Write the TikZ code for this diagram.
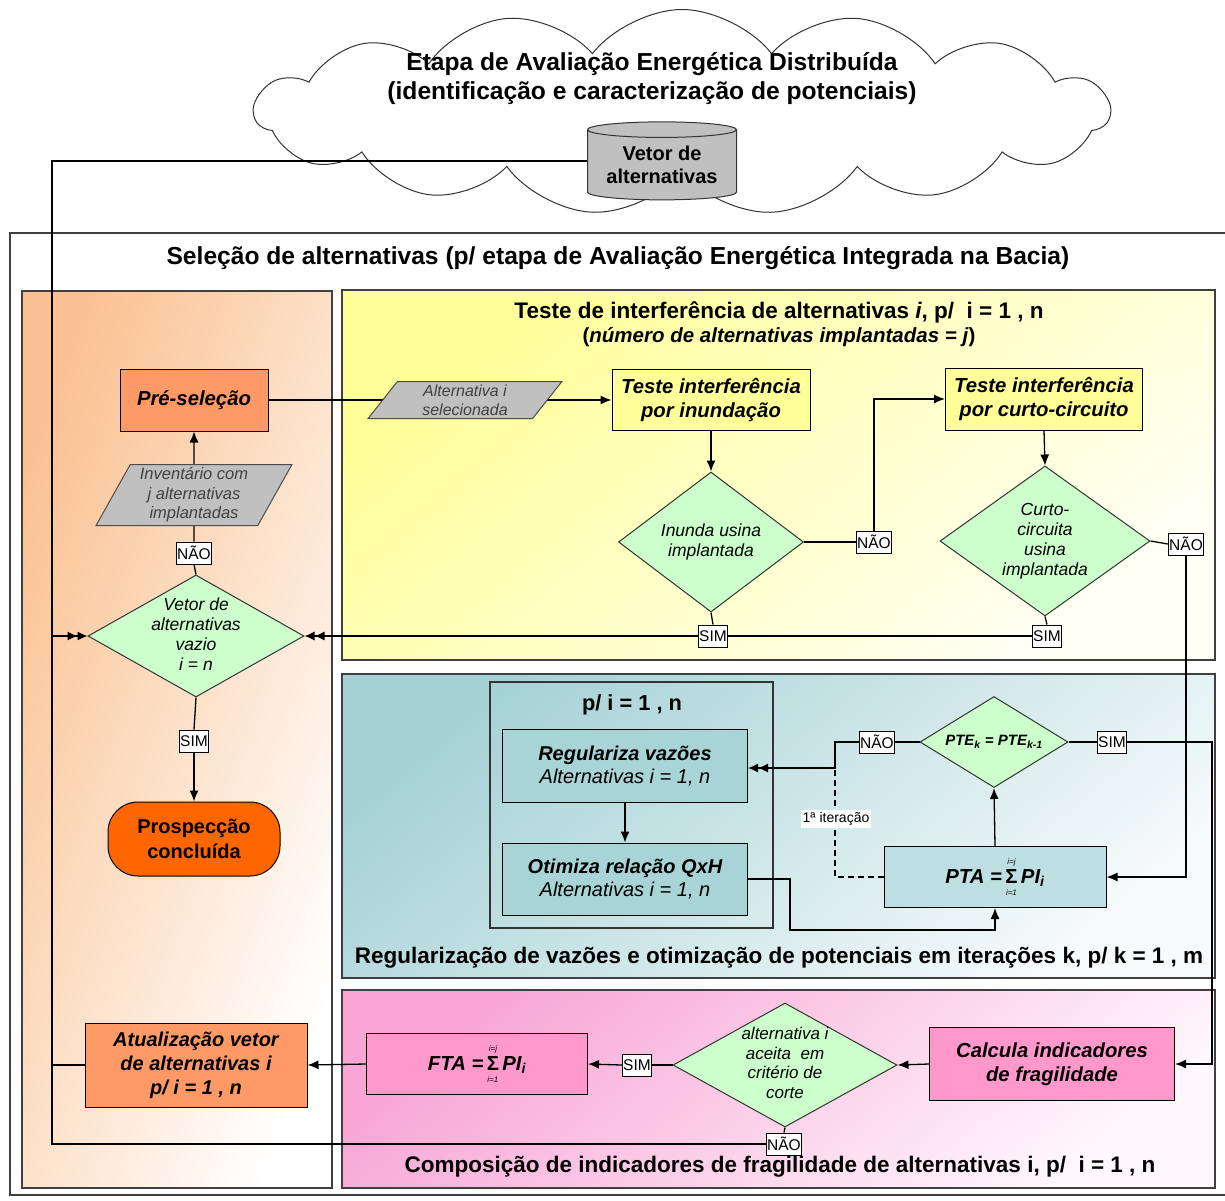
\documentclass[tikz,border=0pt]{standalone}
\usepackage{fontspec}
\setmainfont{Liberation Sans}
\usetikzlibrary{shapes.geometric,shapes.symbols,arrows.meta,calc}
\pgfdeclarelayer{bg}
\pgfdeclarelayer{lines}
\pgfsetlayers{bg,lines,main}
\definecolor{peach}{RGB}{250,194,146}
\definecolor{salmon}{RGB}{255,153,102}
\definecolor{deeporange}{RGB}{255,102,0}
\definecolor{lyellow}{RGB}{255,255,153}
\definecolor{lgreen}{RGB}{204,255,204}
\definecolor{lgray}{RGB}{192,192,192}
\definecolor{tealbox}{RGB}{168,212,216}
\definecolor{tealpanel}{RGB}{166,210,214}
\definecolor{pinkbox}{RGB}{255,153,204}
\definecolor{pinkpanel}{RGB}{248,166,214}
\newcommand\sumij{\,\ensuremath{\mathop{\mbox{\upshape Σ}}\limits^{\mbox{\fontsize{8}{8}\selectfont\mdseries\itshape i=j}\rule[-4pt]{0pt}{0pt}}_{\rule{0pt}{10pt}\mbox{\fontsize{8}{8}\selectfont\mdseries\itshape i=1}}}\,}
\newcommand\ctx[2]{\smash{\makebox[0pt]{\raisebox{#1}{\begin{tabular}{@{}c@{}}#2\end{tabular}}}}}
\tikzset{
 box/.style={rectangle, draw=black, line width=1pt, inner sep=2pt, align=center},
 dec/.style={diamond, draw=black!80, line width=1pt, fill=lgreen, inner sep=0pt, align=center, font=\fontsize{17.5}{20}\selectfont\itshape},
 io/.style={trapezium, trapezium stretches=true, draw=black!70, line width=1pt, fill=lgray, align=center, text=black!75, inner sep=0pt},
 lbl/.style={draw=black, fill=white, line width=0.8pt, inner sep=1pt, font=\fontsize{15.5}{16}\selectfont, minimum height=22pt},
 conn/.style={line width=1.3pt, draw=black},
 arr/.style={conn, -{Latex[length=11pt,width=9pt]}},
 darr/.style={conn, -{Latex[length=10pt,width=9pt] Latex[length=10pt,width=9pt]}},
 panel/.style={draw=black!75, line width=1.5pt},
 ptitle/.style={font=\fontsize{22.5}{26}\selectfont\bfseries},
 bfit/.style={font=\fontsize{20.3}{24.5}\selectfont\bfseries\itshape},
}
\begin{document}
\begin{tikzpicture}[x=1pt,y=-1pt]
\useasboundingbox (0,0) rectangle (1225,1200);
\begin{pgfonlayer}{bg}
\fill[white] (0,0) rectangle (1225,1200);
\node[cloud, cloud puffs=15, cloud puff arc=105, cloud ignores aspect, draw=black!80, line width=1pt, fill=white, minimum width=855pt, minimum height=205pt] (cloud) at (682,112) {};
\draw[panel, fill=white] (10,233) rectangle (1240,1195);
\draw[panel, top color=peach, bottom color=white, shading angle=70] (22,291) rectangle (332,1188);
\draw[panel, top color=lyellow, bottom color=yellow!4, shading angle=40] (342,290) rectangle (1215,660);
\draw[panel, top color=tealpanel, bottom color=tealpanel!10, shading angle=40] (342,674) rectangle (1215,978);
\draw[panel, top color=pinkpanel, bottom color=pinkpanel!8, shading angle=40] (342,990) rectangle (1215,1188);
\draw[line width=1.3pt, draw=black!80] (490,682) rectangle (773,928);
\end{pgfonlayer}

% titles
\node[font=\fontsize{24.6}{29}\selectfont\bfseries, align=center] (ctitle) at (652,79) {Etapa de Avaliação Energética Distribuída\\(identificação e caracterização de potenciais)};
\node[font=\fontsize{24.6}{28}\selectfont\bfseries] (stitle) at (618,258) {Seleção de alternativas (p/ etapa de Avaliação Energética Integrada na Bacia)};
\node[ptitle] (yt1) at (779,312) {Teste de interferência de alternativas \textit{i}, p/\ \ i = 1 , n};
\node[font=\fontsize{20.5}{24}\selectfont\bfseries] (yt2) at (779,337) {(\textit{número de alternativas implantadas = j})};
\node[ptitle] (tt) at (779,958) {Regularização de vazões e otimização de potenciais em iterações k, p/ k = 1 , m};
\node[ptitle] (pt) at (780,1167) {Composição de indicadores de fragilidade de alternativas i, p/\ \ i = 1 , n};

% cylinder
\node[cylinder, shape border rotate=90, aspect=0.14, draw=black!80, line width=1pt, fill=lgray, minimum width=149pt, minimum height=78pt, align=center, font=\fontsize{20}{23}\selectfont\bfseries, inner sep=0pt] (cyl) at (662,165) {Vetor de\\alternativas};

% left column
\node[box, fill=salmon, minimum width=148pt, minimum height=62pt, bfit] (pre) at (194,400) {Pré-seleção};
\node[io, minimum width=196pt, minimum height=61pt, trapezium left angle=62, trapezium right angle=118, font=\fontsize{16.5}{19.5}\selectfont\itshape] (inv) at (194,495) {Inventário com\\j alternativas\\implantadas};
\node[lbl] (n0) at (194,553) {NÃO};
\node[dec, minimum width=216pt, minimum height=122pt] (d0) at (196,636) {\ctx{-0.25em}{Vetor de\\alternativas\\vazio\\i = n}};
\node[lbl] (s0) at (194,741) {SIM};
\node[box, fill=deeporange, rounded corners=30pt, minimum width=172pt, minimum height=74pt, font=\fontsize{20}{25}\selectfont\bfseries] (pros) at (194,839) {Prospecção\\concluída};
\node[box, fill=salmon, minimum width=222pt, minimum height=84pt, font=\fontsize{20}{24}\selectfont\bfseries\itshape] (atual) at (196,1065) {Atualização vetor\\de alternativas i\\p/ i = 1 , n};

% yellow panel
\node[io, minimum width=194pt, minimum height=37pt, trapezium left angle=59, trapezium right angle=121, font=\fontsize{16}{19}\selectfont\itshape] (alt) at (465,400) {Alternativa i\\selecionada};
\node[box, fill=lyellow, minimum width=198pt, minimum height=61pt, bfit] (tin) at (711,400) {Teste interferência\\por inundação};
\node[box, fill=lyellow, minimum width=197pt, minimum height=62pt, bfit] (tcc) at (1044,399) {Teste interferência\\por curto-circuito};
\node[dec, minimum width=185pt, minimum height=140pt] (d1) at (711,542) {\ctx{-0.25em}{Inunda usina\\implantada}};
\node[dec, minimum width=210pt, minimum height=150pt] (d2) at (1045,541) {\ctx{-0.25em}{Curto-\\circuita\\usina\\implantada}};
\node[lbl] (n1) at (874,542) {NÃO};
\node[lbl] (n2) at (1186,544) {NÃO};
\node[lbl] (s1) at (713,636) {SIM};
\node[lbl] (s2) at (1047,636) {SIM};

% teal panel
\node[font=\fontsize{21.8}{24}\selectfont\bfseries] (lt) at (632,705) {p/ i = 1 , n};
\node[box, fill=tealbox, minimum width=245pt, minimum height=73pt, font=\fontsize{20}{23}\selectfont] (reg) at (625,766) {{\bfseries\itshape Regulariza vazões}\\{\itshape Alternativas i = 1, n}};
\node[box, fill=tealbox, minimum width=245pt, minimum height=72pt, font=\fontsize{20}{23}\selectfont] (otm) at (625,879) {{\bfseries\itshape Otimiza relação QxH}\\{\itshape Alternativas i = 1, n}};
\node[box, fill=tealbox!75!white, minimum width=222pt, minimum height=61pt, bfit] (pta) at (995,877) {PTA =\sumij PI\textsubscript{i}};
\node[dec, minimum width=148pt, minimum height=91pt, font=\fontsize{15}{18}\selectfont\bfseries\itshape] (d3) at (994,742) {\ctx{-0.25em}{PTE\textsubscript{k} = PTE\textsubscript{k-1}}};
\node[lbl] (n3) at (877,742) {NÃO};
\node[lbl] (s3) at (1112,742) {SIM};
\node[fill=white, inner sep=2pt, font=\fontsize{14}{16}\selectfont] (iter) at (836,819) {1ª iteração};

% pink panel
\node[box, fill=pinkbox, minimum width=245pt, minimum height=73pt, bfit] (calc) at (1052,1064) {Calcula indicadores\\de fragilidade};
\node[dec, minimum width=224pt, minimum height=124pt, font=\fontsize{17}{19.5}\selectfont\itshape] (d4) at (785,1065) {\ctx{-0.25em}{alternativa i\\aceita\ \ em\\critério de\\corte}};
\node[lbl] (s4) at (637,1065) {SIM};
\node[lbl] (n4) at (784,1144) {NÃO};
\node[box, fill=pinkbox, minimum width=221pt, minimum height=61pt, bfit] (fta) at (477,1064) {FTA =\sumij PI\textsubscript{i}};

\coordinate (ltop) at (52,161);
\coordinate (lbot) at (52,1144);
\coordinate (lmid) at (52,636);
\coordinate (latu) at (52,1065);
\coordinate (o1) at (790,930);
\coordinate (m1) at (835,768);
\coordinate (r1) at (1212,742);

\begin{pgfonlayer}{lines}
\draw[conn] (cyl.west |- ltop) -- (ltop) -- (lbot) -- (n4.west);
\draw[darr] (lmid) -- (d0.west);
\draw[conn] (atual.west) -- (latu);
\draw[conn] (d0.north) -- (n0.south);
\draw[conn] (n0.north) -- (inv.south);
\draw[arr] (inv.north) -- (pre.south);
\draw[conn] (d0.south) -- (s0.north);
\draw[arr] (s0.south) -- (pros.north);
\draw[arr] (pre.east) -- (tin.west);
\draw[arr] (tin.south) -- (d1.north);
\draw[conn] (d1.east) -- (n1.west);
\draw[arr] (n1.north) |- (tcc.west);
\draw[arr] (tcc.south) -- (d2.north);
\draw[conn] (d2.east) -- (n2.west);
\draw[arr] (n2.south) |- (pta.east);
\draw[conn] (d1.south) -- (s1.north);
\draw[conn] (d2.south) -- (s2.north);
\draw[conn] (s2.west) -- (s1.east);
\draw[darr] (s1.west) -- (d0.east);
\draw[arr] (reg.south) -- (otm.north);
\draw[arr] (otm.east) -| (o1) -| (pta.south);
\draw[arr] (pta.north) -- (d3.south);
\draw[conn] (d3.west) -- (n3.east);
\draw[darr] (n3.west) -| (m1) -- (reg.east |- m1);
\draw[conn, dash pattern=on 6pt off 4pt] (pta.west) -| (m1);
\draw[conn] (d3.east) -- (s3.west);
\draw[arr] (s3.east) -- (r1) |- (calc.east);
\draw[arr] (calc.west) -- (d4.east);
\draw[conn] (d4.west) -- (s4.east);
\draw[arr] (s4.west) -- (fta.east);
\draw[arr] (fta.west) -- (atual.east);
\draw[conn] (d4.south) -- (n4.north);
\end{pgfonlayer}
\end{tikzpicture}
\end{document}
